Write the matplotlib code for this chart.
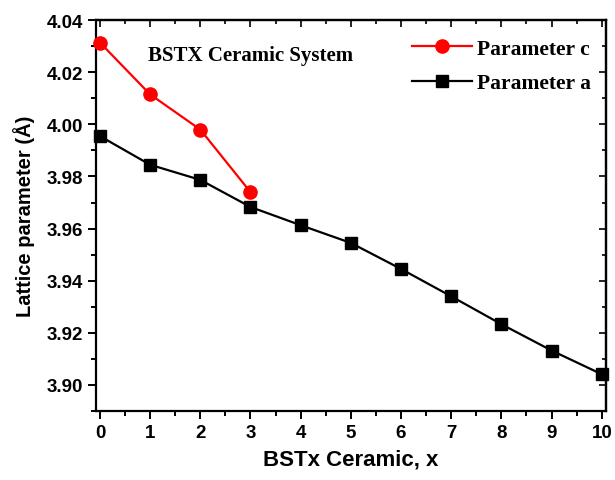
import numpy as np
import matplotlib
matplotlib.use('Agg')
import matplotlib.pyplot as plt
from matplotlib.ticker import MultipleLocator

# data
x_c = [0, 1, 2, 3]
param_c = [4.0314, 4.0115, 3.998, 3.974]
x_a = [0, 1, 2, 3, 4, 5, 6, 7, 8, 9, 10]
param_a = [3.9955, 3.9845, 3.9787, 3.9683, 3.9613, 3.9545, 3.9445, 3.934, 3.9233, 3.9132, 3.9041]

fig = plt.figure(figsize=(6.15, 4.81), dpi=100)
ax = fig.add_axes([0.156, 0.1435, 0.829, 0.8125])

ax.plot(x_c, param_c, color='#ff0000', marker='o', markersize=9.5, linewidth=1.6,
        label='Parameter c', clip_on=False, zorder=3)
ax.plot(x_a, param_a, color='black', marker='s', markersize=8, linewidth=1.6,
        label='Parameter a', clip_on=False, zorder=3)

ax.set_xlim(-0.08, 10.08)
ax.set_ylim(3.89, 4.04)
ax.xaxis.set_major_locator(MultipleLocator(1))
ax.xaxis.set_minor_locator(MultipleLocator(0.5))
ax.yaxis.set_major_locator(MultipleLocator(0.02))
ax.yaxis.set_minor_locator(MultipleLocator(0.01))
ax.yaxis.set_major_formatter(matplotlib.ticker.FormatStrFormatter('%.2f'))

for s in ax.spines.values():
    s.set_linewidth(1.6)

ax.tick_params(which='both', direction='out', top=False, right=False, width=1.4)
ax.tick_params(which='major', length=6, labelsize=13.5)
ax.tick_params(which='minor', length=3.5)
for lab in ax.get_xticklabels() + ax.get_yticklabels():
    lab.set_fontweight('bold')
    lab.set_family('Liberation Sans')

# inward ticks on top and right
sec_x = ax.secondary_xaxis('top')
sec_x.xaxis.set_major_locator(MultipleLocator(1))
sec_x.xaxis.set_minor_locator(MultipleLocator(0.5))
sec_x.tick_params(which='both', direction='in', labeltop=False, width=1.2)
sec_x.tick_params(which='major', length=5)
sec_x.tick_params(which='minor', length=3)
sec_x.spines['top'].set_linewidth(1.6)
sec_y = ax.secondary_yaxis('right')
sec_y.yaxis.set_major_locator(MultipleLocator(0.02))
sec_y.yaxis.set_minor_locator(MultipleLocator(0.01))
sec_y.tick_params(which='both', direction='in', labelright=False, width=1.2)
sec_y.tick_params(which='major', length=5)
sec_y.tick_params(which='minor', length=3)
sec_y.spines['right'].set_linewidth(1.6)

ax.set_xlabel('BSTx Ceramic, x', fontsize=16, fontweight='bold', family='Liberation Sans', labelpad=5)
ax.set_ylabel('Lattice parameter (Å)', fontsize=14.5, fontweight='bold', family='Liberation Sans', labelpad=8)

ax.text(0.103, 0.91, 'BSTX Ceramic System', transform=ax.transAxes, fontsize=15,
        fontweight='bold', family='Liberation Serif', va='center')

leg = ax.legend(loc='upper right', bbox_to_anchor=(0.997, 0.985), frameon=False,
                handlelength=2.8, borderaxespad=0.2, labelspacing=0.65, handletextpad=0.25,
                prop={'family': 'Liberation Serif', 'weight': 'bold', 'size': 15.5})

fig.savefig('out.png', dpi=100)
